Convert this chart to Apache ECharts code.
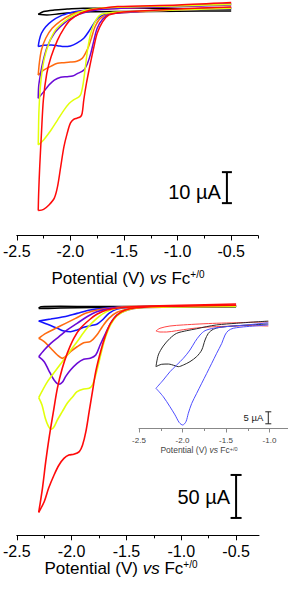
<!DOCTYPE html>
<html><head><meta charset="utf-8">
<script src="https://cdn.jsdelivr.net/npm/echarts@6/dist/echarts.min.js"></script>
<style>html,body{margin:0;padding:0;background:#fff}#c{width:288px;height:590px}</style>
</head><body><div id="c"></div>
<script>
// ---------- tick labels ----------
const mainMajorTicks = [-2.5, -2.0, -1.5, -1.0, -0.5];
const topMinorTicks = [-2.25, -1.75, -1.25, -0.75, -0.25];
const bottomMinorTicks = [-2.25, -1.75, -1.25, -0.75];
const insetMajorTicks = [-2.5, -2.0, -1.5, -1.0];
const insetMinorTicks = [-2.25, -1.75, -1.25];

// ---------- colours (draw order) ----------
const traceNames = ['black', 'blue', 'orange', 'purple', 'yellow', 'red'];
const traceColors = ['#000000', '#1414ff', '#ff6a10', '#6a0ad6', '#e2ff0a', '#ff0a0a'];
const insetNames = ['red', 'black', 'blue'];
const insetColors = ['#ff4545', '#2a2a2a', '#4d4dff'];

// ---------- top panel (V vs Fc, current in µA) ----------
const topBlack = [[-0.5,-0.3],[-1.0,-0.4],[-1.5,-0.5],[-1.81,-0.6],[-2.0,-0.9],[-2.12,-1.3],[-2.22,-1.6],[-2.30,-1.4],
  [-2.25,-0.5],[-2.15,0.0],[-2.03,0.3],[-1.88,0.6],[-1.5,0.6],[-1.0,0.5],[-0.5,0.3]];
const topBlue = [[-0.5,0.8],[-1.0,0.2],[-1.44,-0.6],[-1.56,-0.9],[-1.67,-1.3],[-1.735,-2.4],[-1.78,-4.3],[-1.83,-7.0],[-1.875,-9.1],[-1.94,-10.7],[-2.0,-11.6],[-2.06,-11.8],[-2.12,-11.5],[-2.18,-11.3],[-2.25,-11.4],[-2.30,-11.8],
  [-2.29,-9.7],[-2.27,-7.5],[-2.23,-5.4],[-2.17,-3.5],[-2.09,-1.9],[-2.0,-0.9],[-1.905,-0.2],[-1.78,0.2],[-1.6,0.5],[-1.0,1.3],[-0.5,2.0]];
const topOrange = [[-0.5,0.7],[-1.0,0.1],[-1.44,-0.7],[-1.64,-1.3],[-1.72,-2.7],[-1.77,-5.4],[-1.80,-8.6],[-1.83,-11.8],[-1.86,-14.0],[-1.89,-15.6],[-1.94,-16.5],[-2.0,-16.8],[-2.06,-17.0],[-2.12,-17.2],[-2.18,-18.1],[-2.25,-19.4],[-2.30,-21.0],
  [-2.29,-17.2],[-2.27,-12.9],[-2.23,-9.1],[-2.17,-5.9],[-2.09,-3.5],[-2.0,-1.6],[-1.905,-0.5],[-1.78,0.2],[-1.6,0.5],[-1.0,1.2],[-0.5,1.9]];
const topPurple = [[-0.5,0.5],[-1.0,0.0],[-1.44,-0.7],[-1.63,-1.3],[-1.70,-3.0],[-1.75,-5.9],[-1.78,-9.7],[-1.81,-14.0],[-1.84,-17.2],[-1.875,-19.4],[-1.94,-20.6],[-1.98,-21.3],[-2.03,-21.5],[-2.09,-21.7],[-2.15,-22.6],[-2.20,-24.2],[-2.25,-26.4],[-2.30,-28.5],
  [-2.296,-24.7],[-2.283,-21.5],[-2.26,-17.2],[-2.215,-11.8],[-2.15,-7.5],[-2.06,-4.3],[-1.97,-2.2],[-1.875,-0.9],[-1.75,0.0],[-1.56,0.5],[-1.0,1.1],[-0.5,1.6]];
const topYellow = [[-0.5,0.6],[-1.0,0.0],[-1.44,-0.5],[-1.63,-0.9],[-1.72,-1.6],[-1.77,-3.8],[-1.81,-7.5],[-1.84,-12.9],[-1.86,-18.3],[-1.88,-23.6],[-1.90,-26.9],[-1.92,-28.0],[-1.97,-29.0],[-2.01,-30.1],[-2.06,-32.3],[-2.12,-35.5],[-2.18,-38.7],[-2.25,-41.9],[-2.30,-43.5],
  [-2.298,-39.8],[-2.293,-32.3],[-2.277,-23.6],[-2.246,-16.1],[-2.20,-10.7],[-2.14,-6.5],[-2.06,-3.8],[-1.97,-1.6],[-1.875,-0.2],[-1.75,0.5],[-1.56,0.9],[-1.0,1.3],[-0.5,1.8]];
const topRed = [[-0.5,1.0],[-1.0,0.3],[-1.44,-0.5],[-1.56,-0.9],[-1.64,-1.6],[-1.70,-3.8],[-1.75,-7.5],[-1.78,-11.8],[-1.82,-18.3],[-1.85,-23.6],[-1.875,-29.0],[-1.89,-33.3],[-1.905,-34.4],[-1.94,-34.9],[-1.97,-35.3],[-2.00,-36.5],[-2.03,-39.8],[-2.06,-44.1],[-2.09,-50.5],[-2.12,-57.0],[-2.15,-60.7],[-2.20,-62.9],[-2.25,-64.3],[-2.30,-64.7],
  [-2.296,-59.1],[-2.286,-50.5],[-2.27,-39.8],[-2.252,-29.0],[-2.22,-20.4],[-2.18,-15.1],[-2.12,-9.7],[-2.06,-5.9],[-2.0,-3.2],[-1.905,-1.1],[-1.81,0.0],[-1.72,0.5],[-1.56,1.1],[-1.0,1.6],[-0.5,2.4]];

// ---------- bottom panel ----------
const botBlack = [[-0.5,0.3],[-1.5,-0.3],[-1.8,-0.6],[-2.1,-1.2],[-2.25,-1.6],[-2.30,-1.6],
  [-2.28,0.3],[-2.1,0.7],[-1.8,0.6],[-1.5,0.4],[-0.5,0.5]];
const botBlue = [[-0.5,0.8],[-1.0,0.3],[-1.46,-0.4],[-1.585,-2.3],[-1.66,-7.4],[-1.72,-15.1],[-1.77,-20.1],[-1.83,-21.7],[-1.89,-23.6],[-1.95,-26.7],[-2.01,-28.7],[-2.07,-27.9],[-2.13,-24.8],[-2.22,-20.1],[-2.30,-16.3],
  [-2.19,-14.0],[-2.07,-11.3],[-1.95,-7.4],[-1.83,-3.5],[-1.71,-1.6],[-1.555,-0.4],[-1.0,1.0],[-0.5,1.5]];
const botOrange = [[-0.5,0.8],[-1.0,0.4],[-1.34,0.0],[-1.46,-1.6],[-1.585,-6.2],[-1.66,-13.2],[-1.72,-22.9],[-1.77,-32.6],[-1.83,-40.3],[-1.89,-41.5],[-1.95,-46.2],[-2.01,-52.0],[-2.055,-57.8],[-2.085,-59.7],[-2.13,-55.8],[-2.19,-48.0],[-2.25,-40.3],[-2.30,-36.4],
  [-2.236,-30.6],[-2.145,-24.8],[-2.055,-19.0],[-1.964,-13.2],[-1.873,-7.4],[-1.767,-3.5],[-1.615,-0.8],[-1.46,0.4],[-1.0,1.2],[-0.5,1.8]];
const botPurple = [[-0.5,0.8],[-1.0,0.3],[-1.37,-0.8],[-1.49,-3.5],[-1.585,-9.3],[-1.645,-19.0],[-1.69,-30.6],[-1.74,-44.2],[-1.78,-55.8],[-1.83,-59.7],[-1.89,-60.8],[-1.95,-65.5],[-2.01,-73.3],[-2.055,-81.0],[-2.085,-87.6],[-2.115,-89.9],[-2.16,-84.9],[-2.21,-73.3],[-2.25,-63.6],[-2.30,-57.8],
  [-2.25,-50.0],[-2.19,-42.2],[-2.115,-34.5],[-2.04,-26.7],[-1.95,-19.0],[-1.86,-11.3],[-1.77,-5.4],[-1.645,-1.6],[-1.49,0.0],[-1.0,1.2],[-0.5,1.8]];
const botYellow = [[-0.5,0.6],[-1.0,0.2],[-1.37,-0.8],[-1.49,-3.5],[-1.585,-10.1],[-1.645,-20.9],[-1.69,-34.5],[-1.72,-48.0],[-1.75,-63.6],[-1.78,-79.1],[-1.81,-90.7],[-1.84,-94.6],[-1.89,-95.3],[-1.95,-98.5],[-1.99,-104.3],[-2.04,-112.0],[-2.085,-121.7],[-2.13,-131.4],[-2.16,-139.2],[-2.185,-142.2],[-2.21,-139.2],[-2.24,-129.4],[-2.27,-114.0],[-2.30,-105.4],
  [-2.22,-86.8],[-2.13,-71.3],[-2.04,-55.8],[-1.95,-40.3],[-1.86,-24.8],[-1.77,-13.2],[-1.68,-5.4],[-1.555,-0.8],[-1.0,1.0],[-0.5,1.5]];
const botRed = [[-0.5,2.0],[-1.0,1.0],[-1.28,0.4],[-1.40,-0.8],[-1.51,-3.5],[-1.585,-9.3],[-1.645,-19.0],[-1.69,-32.6],[-1.736,-52.0],[-1.78,-75.2],[-1.81,-98.5],[-1.84,-121.7],[-1.87,-145.0],[-1.90,-160.5],[-1.93,-168.2],[-1.98,-171.3],[-2.025,-172.1],[-2.07,-176.0],[-2.115,-183.7],[-2.16,-195.3],[-2.21,-210.8],[-2.25,-226.4],[-2.30,-238.7],
  [-2.266,-210.8],[-2.236,-179.9],[-2.206,-152.7],[-2.166,-121.7],[-2.13,-94.6],[-2.085,-71.3],[-2.04,-53.9],[-1.98,-36.4],[-1.92,-24.8],[-1.84,-15.1],[-1.77,-8.5],[-1.68,-3.5],[-1.555,-0.8],[-1.40,0.4],[-1.0,2.0],[-0.5,3.5]];

// ---------- inset ----------
const insRed = [[-1.014,-1.25],[-1.224,-1.1],[-1.377,-1.25],[-1.607,-1.5],[-1.761,-1.8],[-1.914,-2.4],[-2.067,-3.2],[-2.182,-3.75],[-2.259,-3.75],[-2.305,-3.3],
  [-2.259,-2.2],[-2.144,-1.25],[-1.99,-0.8],[-1.80,-0.4],[-1.607,-0.1],[-1.377,0.1],[-1.224,0.3],[-1.014,0.5]];
const insBlack = [[-1.014,-0.4],[-1.224,-0.8],[-1.416,-1.25],[-1.569,-1.8],[-1.646,-2.6],[-1.703,-4.3],[-1.741,-7.1],[-1.779,-11.25],[-1.837,-14.0],[-1.914,-16.1],[-1.99,-17.5],[-2.048,-18.2],[-2.086,-17.8],[-2.163,-17.1],[-2.239,-17.2],[-2.305,-18.2],
  [-2.278,-13.3],[-2.221,-9.6],[-2.144,-6.4],[-2.067,-4.3],[-1.952,-3.2],[-1.837,-2.4],[-1.722,-1.5],[-1.607,-0.8],[-1.377,-0.1],[-1.014,0.8]];
const insBlue = [[-1.014,-0.8],[-1.262,-1.5],[-1.416,-2.2],[-1.474,-3.2],[-1.511,-5.0],[-1.549,-8.5],[-1.607,-12.6],[-1.664,-16.8],[-1.722,-21.0],[-1.779,-25.1],[-1.837,-29.3],[-1.894,-33.5],[-1.933,-37.6],[-1.96,-41.1],[-1.998,-42.5],[-2.037,-41.5],[-2.086,-38.3],[-2.144,-34.9],[-2.221,-30.7],[-2.305,-27.2],
  [-2.221,-23.75],[-2.144,-20.3],[-2.067,-17.5],[-1.99,-14.7],[-1.914,-11.25],[-1.856,-7.8],[-1.799,-5.0],[-1.741,-3.2],[-1.646,-2.2],[-1.492,-1.5],[-1.262,-0.8],[-1.014,0.1]];

// ---------- scale bars: [potential, current start, current end] ----------
const topScaleBar = [-0.54, -52.3, -62.3];
const bottomScaleBar = [-0.50, -195.3, -245.3];
const insetScaleBar = [-1.014, -37.0, -42.0];
const scaleBarLabels = ['10 µA', '50 µA', '5 µA'];

const topTraces = [topBlack, topBlue, topOrange, topPurple, topYellow, topRed];
const botTraces = [botBlack, botBlue, botOrange, botPurple, botYellow, botRed];
const insTraces = [insRed, insBlack, insBlue];

const FONT = '"Liberation Sans", Arial, Helvetica, sans-serif';

function splitBranches(arr) {
  let iv = 0;
  arr.forEach((p, i) => { if (p[0] < arr[iv][0]) iv = i; });
  return [arr.slice(0, iv + 1), arr.slice(iv)];
}

const series = [];
function addTraces(traces, colors, names, axisIdx, yIdx, width) {
  traces.forEach((t, k) => {
    splitBranches(t).forEach((b, j) => {
      series.push({
        type: 'line', name: names[k] + (j ? ' reverse' : ' forward'),
        xAxisIndex: axisIdx, yAxisIndex: yIdx, data: b,
        showSymbol: false, smooth: 0.3, clip: false,
        lineStyle: { color: colors[k], width: width },
        z: 2 + k
      });
    });
  });
}
addTraces(topTraces, traceColors, traceNames, 0, 0, 1.5);
addTraces(botTraces, traceColors, traceNames, 2, 1, 1.6);
addTraces(insTraces, insetColors, insetNames, 4, 2, 1);

function scaleBarSeries(bar, label, axisIdx, yIdx, cap, fs, color, lw, textDy, gap) {
  return {
    type: 'custom', xAxisIndex: axisIdx, yAxisIndex: yIdx, clip: false, z: 20,
    data: [bar],
    renderItem: function (params, api) {
      const a = api.coord([api.value(0), api.value(1)]);
      const b = api.coord([api.value(0), api.value(2)]);
      const st = { stroke: color, lineWidth: lw };
      return {
        type: 'group', children: [
          { type: 'line', shape: { x1: a[0], y1: a[1], x2: b[0], y2: b[1] }, style: st },
          { type: 'line', shape: { x1: a[0] - cap, y1: a[1], x2: a[0] + cap, y2: a[1] }, style: st },
          { type: 'line', shape: { x1: b[0] - cap, y1: b[1], x2: b[0] + cap, y2: b[1] }, style: st },
          { type: 'text', style: { text: label, x: a[0] - gap, y: (a[1] + b[1]) / 2 + textDy,
              align: 'right', verticalAlign: 'middle', fontSize: fs, fontFamily: FONT, fill: color } }
        ]
      };
    }
  };
}
series.push(scaleBarSeries(topScaleBar, scaleBarLabels[0], 0, 0, 5, 20, '#000', 2, 4, 6));
series.push(scaleBarSeries(bottomScaleBar, scaleBarLabels[1], 2, 1, 5.5, 20, '#000', 2, 1, 6));
series.push(scaleBarSeries(insetScaleBar, scaleBarLabels[2], 4, 2, 3, 9.5, '#222', 1, 0, 5));

const grids = [
  { left: 16, right: 30, top: 0, height: 235.5 },
  { left: 16, right: 29, top: 290, height: 245.3 },
  { left: 139, right: 0, top: 310, height: 118.5 }
];

function majorAxis(g, min, max, ticks, fs, color, lineColor, tickLen, margin) {
  return {
    type: 'value', gridIndex: g, position: 'bottom', min: min, max: max,
    splitLine: { show: false },
    axisLine: { show: true, onZero: false, lineStyle: { color: lineColor, width: 1 } },
    axisTick: { show: true, length: tickLen, customValues: ticks, lineStyle: { color: lineColor, width: 1 } },
    axisLabel: { show: true, customValues: ticks, fontSize: fs, fontFamily: FONT, color: color, margin: margin,
      formatter: v => v.toFixed(1) }
  };
}
function minorAxis(g, min, max, ticks, h, lineColor, tickLen) {
  return {
    type: 'value', gridIndex: g, position: 'top', offset: -h, min: min, max: max,
    splitLine: { show: false },
    axisLine: { show: false, onZero: false },
    axisTick: { show: true, inside: true, length: tickLen, customValues: ticks, lineStyle: { color: lineColor, width: 1 } },
    axisLabel: { show: false }
  };
}

const option = {
  animation: false,
  backgroundColor: '#ffffff',
  grid: grids,
  xAxis: [
    majorAxis(0, -2.5, -0.25, mainMajorTicks, 16, '#000', '#000', 5, 8),
    minorAxis(0, -2.5, -0.25, topMinorTicks, 235.5, '#000', 3),
    majorAxis(1, -2.5, -0.291, mainMajorTicks, 16, '#000', '#000', 5, 8),
    minorAxis(1, -2.5, -0.291, bottomMinorTicks, 245.3, '#000', 3),
    majorAxis(2, -2.5, -0.7874, insetMajorTicks, 8, '#444', '#888', 4, 8),
    minorAxis(2, -2.5, -0.7874, insetMinorTicks, 118.5, '#888', 2.5)
  ],
  yAxis: [
    { type: 'value', gridIndex: 0, min: -72.74, max: 3.23, show: false },
    { type: 'value', gridIndex: 1, min: -265.47, max: 19.77, show: false },
    { type: 'value', gridIndex: 2, min: -43.958, max: 5.417, show: false }
  ],
  graphic: [
    { type: 'text', x: 128, y: 278, style: { text: '{n|Potential (V) }{i|vs}{n| Fc}{s|+/0}', align: 'center', verticalAlign: 'middle',
      rich: { n: { fontSize: 17, fontFamily: FONT, fill: '#000' }, i: { fontSize: 17, fontStyle: 'italic', fontFamily: FONT, fill: '#000' },
              s: { fontSize: 10, fontFamily: FONT, fill: '#000', verticalAlign: 'top' } } } },
    { type: 'text', x: 121, y: 568, style: { text: '{n|Potential (V) }{i|vs}{n| Fc}{s|+/0}', align: 'center', verticalAlign: 'middle',
      rich: { n: { fontSize: 17, fontFamily: FONT, fill: '#000' }, i: { fontSize: 17, fontStyle: 'italic', fontFamily: FONT, fill: '#000' },
              s: { fontSize: 10, fontFamily: FONT, fill: '#000', verticalAlign: 'top' } } } },
    { type: 'text', x: 199, y: 450, style: { text: '{n|Potential (V) }{i|vs}{n| Fc}{s|+/0}', align: 'center', verticalAlign: 'middle',
      rich: { n: { fontSize: 8.5, fontFamily: FONT, fill: '#444' }, i: { fontSize: 8.5, fontStyle: 'italic', fontFamily: FONT, fill: '#444' },
              s: { fontSize: 5.5, fontFamily: FONT, fill: '#444', verticalAlign: 'top' } } } }
  ],
  series: series
};

const chart = echarts.init(document.getElementById('c'), null, { renderer: 'svg' });
chart.setOption(option);
</script>
</body></html>
